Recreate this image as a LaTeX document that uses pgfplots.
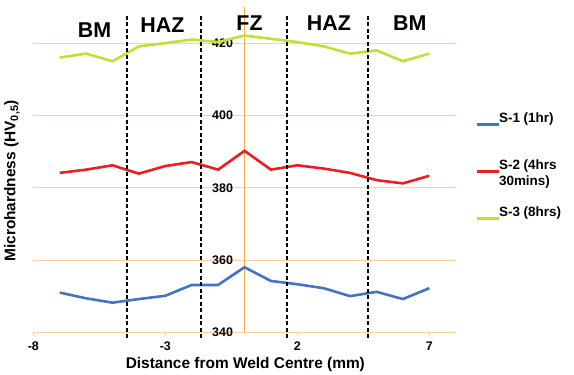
\documentclass[border=0pt]{standalone}
\usepackage{fontspec}
\setmainfont{Liberation Sans}
\usepackage{pgfplots}
\pgfplotsset{compat=1.18}
\definecolor{sblue}{HTML}{4472C4}
\definecolor{sred}{HTML}{EB1E23}
\definecolor{sgreen}{HTML}{C3DE35}
\definecolor{gridor}{HTML}{F5D3A0}
\definecolor{axor}{HTML}{F2AE45}
\begin{document}
\begin{tikzpicture}
\useasboundingbox (0,0) rectangle (574bp,375bp);
\begin{axis}[
  at={(33.3bp,42.7bp)}, anchor=south west,
  scale only axis, width=422.4bp, height=325.3bp,
  xmin=-8, xmax=8, ymin=340, ymax=430,
  xtick={-8,-3,2,7}, ytick={340,360,380,400,420},
  axis x line*=bottom, axis y line*=middle,
  hide obscured x ticks=false, hide obscured y ticks=false,
  x axis line style={gridor, line width=1bp},
  y axis line style={axor, line width=1.8bp},
  ymajorgrids, grid style={gridor, line width=1bp},
  xtick style={gridor, line width=1bp}, ytick style={draw=none},
  xtick align=outside, major tick length=4bp,
  /pgf/number format/assume math mode=true,
  tick label style={font=\bfseries\fontsize{12.5}{13}\selectfont, text=black},
  xticklabel style={yshift=-2bp},
  yticklabel style={xshift=-8bp},
  xlabel={Distance from Weld Centre (mm)},
  xlabel style={at={(axis description cs:0.502,-0.1005)}, anchor=center, font=\bfseries\fontsize{15.5}{16}\selectfont},
  ylabel={Microhardness (HV\textsubscript{0,5})},
  ylabel style={at={(axis description cs:-0.0504,0.465)}, anchor=center, rotate=0, font=\bfseries\fontsize{15.5}{16}\selectfont},
  clip=false,
  legend style={at={(axis description cs:1.040,0.695)}, anchor=north west, draw=none, fill=none,
    font=\bfseries\fontsize{13.5}{16}\selectfont, row sep=11bp,
    nodes={inner xsep=0bp, text depth=20bp, text height=12bp}},
  legend cell align=left,
  legend image code/.code={\path (0bp,-4bp); \fill[#1, draw=none] (0bp,0bp) rectangle (22bp,3.3bp);},
]
\addplot[sblue, line width=2.6bp] coordinates {
(-7,351) (-6,349.4) (-5,348.2) (-4,349.2) (-3,350.1) (-2,353.1) (-1,353.1) (0,358)
(1,354.2) (2,353.3) (3,352.2) (4,350) (5,351.2) (6,349.2) (7,352.2)};
\addlegendentry{S-1 (1hr)}
\addplot[sred, line width=2.6bp] coordinates {
(-7,384.1) (-6,385) (-5,386.2) (-4,383.9) (-3,386) (-2,387.1) (-1,385) (0,390.2)
(1,385) (2,386.2) (3,385.3) (4,384.1) (5,382.1) (6,381.2) (7,383.3)};
\addlegendentry{{\begin{tabular}[t]{@{}l@{}}S-2 (4hrs\\30mins)\end{tabular}}}
\addplot[sgreen, line width=2.6bp] coordinates {
(-7,416) (-6,417.1) (-5,415) (-4,419.1) (-3,420) (-2,421) (-1,420.3) (0,422.1)
(1,421.2) (2,420.3) (3,419.1) (4,417.1) (5,418) (6,415) (7,417.1)};
\addlegendentry{S-3 (8hrs)}
\addplot[black, dash pattern=on 4bp off 2.5bp, line width=2bp, forget plot] coordinates {(-4.45,338.4) (-4.45,428.3)};
\addplot[black, dash pattern=on 4bp off 2.5bp, line width=2bp, forget plot] coordinates {(-1.65,338.4) (-1.65,428.3)};
\addplot[black, dash pattern=on 4bp off 2.5bp, line width=2bp, forget plot] coordinates {(1.62,338.4) (1.62,428.3)};
\addplot[black, dash pattern=on 4bp off 2.5bp, line width=2bp, forget plot] coordinates {(4.68,338.4) (4.68,428.3)};
\begin{scope}[every node/.style={font=\bfseries\fontsize{21.5}{22}\selectfont}]
\node at (axis cs:-5.68,423.6) {BM};
\node at (axis cs:-3.11,425.1) {HAZ};
\node at (axis cs:0.19,425.4) {FZ};
\node at (axis cs:3.2,425.4) {HAZ};
\node at (axis cs:6.26,425.4) {BM};
\end{scope}
\end{axis}
\end{tikzpicture}
\end{document}
